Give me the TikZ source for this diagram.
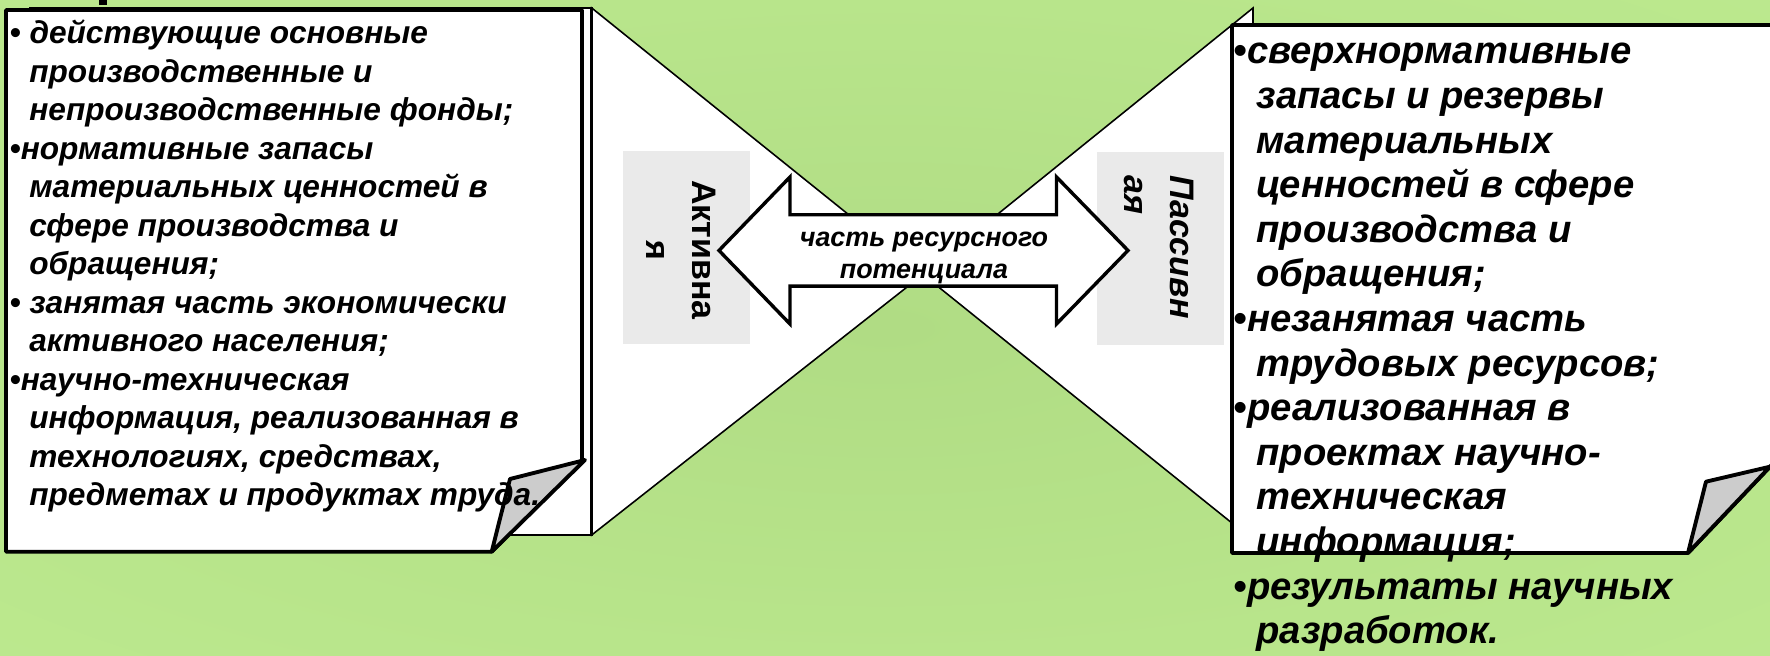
\documentclass[tikz,border=0pt]{standalone}
\usepackage{fontspec}
\setmainfont{Liberation Sans}
\definecolor{bgin}{RGB}{176,220,132}
\definecolor{bgout}{RGB}{197,243,150}
\definecolor{lblgray}{RGB}{234,234,234}
\definecolor{flapgray}{RGB}{204,204,204}
\pgfdeclareradialshading{bgglow}{\pgfpoint{0bp}{0bp}}{color(0bp)=(bgin); color(65bp)=(bgout)}
\newcommand{\lfont}{\fontsize{9.0pt}{10.95pt}\selectfont\bfseries\itshape}
\newcommand{\rfont}{\fontsize{10.87pt}{12.69pt}\selectfont\bfseries\itshape}
\newcommand{\mfont}{\fontsize{7.65pt}{9.2pt}\selectfont\bfseries\itshape}
\newcommand{\labfont}{\fontsize{9.67pt}{13.09pt}\selectfont\bfseries}
\newcommand{\lind}{\hspace*{0.62em}}
\newcommand{\rind}{\hspace*{0.6em}}

\begin{document}
\begin{tikzpicture}[x=0.1mm,y=-0.1mm,
  wing/.style={fill=white,draw=black,line width=0.45pt},
  pagebox/.style={fill=white,draw=black,line width=1.1pt,line join=round},
  backpage/.style={fill=white,draw=black,line width=0.8pt},
  flap/.style={fill=flapgray,draw=black,line width=1.1pt,line join=round},
  lblbox/.style={fill=lblgray}]
\useasboundingbox (0,0) rectangle (1770,656);
\clip (0,0) rectangle (1770,656);
% background
\shade[shading=bgglow] (0,0) rectangle (1770,656);
% cut-off title mark
\fill (99,0) rectangle (107,5);
% white wings of the hourglass
\draw[wing] (591.7,8) -- (923,274.5) -- (591.7,535) -- cycle;
\draw[wing] (1253,8) -- (923,274.5) -- (1253,540) -- cycle;
% grey label plates
\fill[lblbox] (623,151) rectangle (749.5,344);
\fill[lblbox] (1097,152) rectangle (1224,345);
% double arrow
\draw[fill=white,line width=0.97pt,line join=miter]
  (719,250.5) -- (790,177) -- (790,214.8) -- (1056.5,214.8) -- (1056.5,177)
  -- (1128,250.5) -- (1056.5,324) -- (1056.5,286.2) -- (790,286.2) -- (790,324) -- cycle;
% left sheet
\draw[backpage] (30,8) rectangle (591.7,535);
\draw[pagebox] (6,10) -- (582,10) -- (582,460) -- (491.7,551.7) -- (6,551.7) -- cycle;
\draw[flap] (585,460) -- (510,479) -- (491.7,551.7) -- cycle;
% right sheet
\draw[pagebox] (1232,25) -- (1776,25) -- (1776,460.4) -- (1688,553) -- (1232,553) -- cycle;
\draw[flap] (1770,466.7) -- (1706,481.7) -- (1688,553) -- cycle;
% texts
\node[anchor=base west,inner sep=0] (lefttext) at (9,44) {\parbox[t]{60mm}{\lfont\raggedright
• действующие основные\\
\lind производственные и\\
\lind непроизводственные фонды;\\
•нормативные запасы\\
\lind материальных ценностей в\\
\lind сфере производства и\\
\lind обращения;\\
• занятая часть экономически\\
\lind активного населения;\\
•научно-техническая\\
\lind информация, реализованная в\\
\lind технологиях, средствах,\\
\lind предметах и продуктах труда.}};
\node[anchor=base west,inner sep=0] (righttext) at (1233,64) {\parbox[t]{52mm}{\rfont\raggedright
•сверхнормативные\\
\rind запасы и резервы\\
\rind материальных\\
\rind ценностей в сфере\\
\rind производства и\\
\rind обращения;\\
•незанятая часть\\
\rind трудовых ресурсов;\\
•реализованная в\\
\rind проектах научно-\\
\rind техническая\\
\rind информация;\\
•результаты научных\\
\rind разработок.}};
\node[font=\mfont,align=center] (midtext) at (924,258) {часть ресурсного\\потенциала};
\node[rotate=-90,anchor=north,inner sep=0,align=center,font=\labfont] (activelbl) at (717,250) {Активна\\я};
\node[rotate=-90,anchor=north west,inner sep=0,align=left,font=\labfont\itshape] (passivelbl) at (1195,175) {Пассивн\\ая};
\end{tikzpicture}
\end{document}
